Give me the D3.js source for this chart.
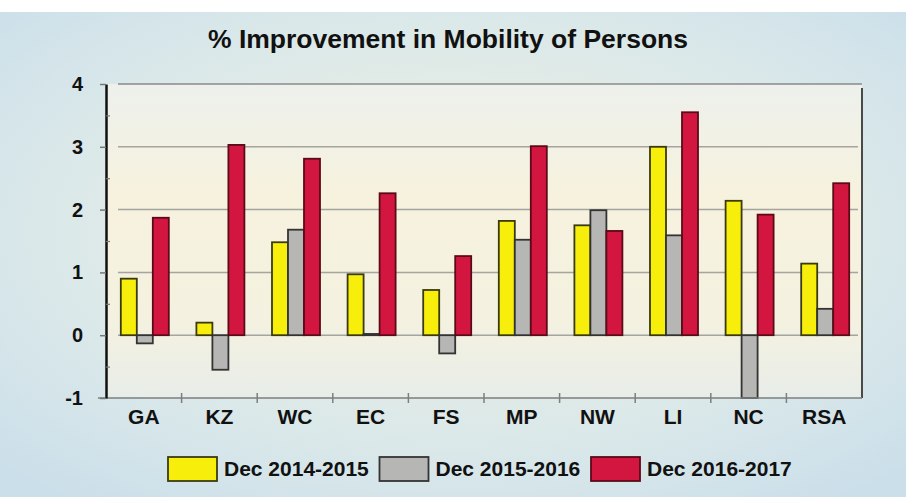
<!DOCTYPE html>
<html>
<head>
<meta charset="utf-8">
<script src="https://cdn.jsdelivr.net/npm/d3@7"></script>
<style>
  body { margin: 0; background: #ffffff; }
  text { font-family: "Liberation Sans", Arial, sans-serif; font-weight: bold; fill: #111; }
  .axis text { font-size: 20px; }
  .xaxis text { font-size: 21px; }
  #title { font-size: 26.5px; }
  .legend_label { font-size: 21px; }
</style>
</head>
<body>
<div id="chart"></div>
<script>
// data
var categories = ["GA", "KZ", "WC", "EC", "FS", "MP", "NW", "LI", "NC", "RSA"];
var seriesNames = ["Dec 2014-2015", "Dec 2015-2016", "Dec 2016-2017"];
var dec2014_2015 = [0.9, 0.2, 1.48, 0.97, 0.72, 1.82, 1.75, 3.0, 2.14, 1.14];
var dec2015_2016 = [-0.13, -0.55, 1.68, 0.02, -0.29, 1.52, 1.99, 1.59, -1.0, 0.42];
var dec2016_2017 = [1.87, 3.03, 2.81, 2.26, 1.26, 3.01, 1.66, 3.55, 1.92, 2.42];
var yTicks = [-1, 0, 1, 2, 3, 4];
var gridValues = [0, 1, 2, 3];
var minorTicks = [-0.5, 0.5, 1.5, 2.5, 3.5];

var colors = ["#f7ee0c", "#b6b6b4", "#d3163f"];
var strokes = ["#3a3a10", "#333333", "#5a0a18"];

var W = 906, H = 497;
var margin = {top: 84, bottom: 99, left: 106, right: 44};
var width = W - margin.left - margin.right;
var height = H - margin.top - margin.bottom;

var svg = d3.select("#chart")
  .append("svg")
  .attr("width", W)
  .attr("height", H);

// background gradients
var defs = svg.append("defs");
var bg = defs.append("radialGradient").attr("id", "bg")
  .attr("cx", "50%").attr("cy", "45%").attr("r", "70%");
bg.append("stop").attr("offset", "0%").attr("stop-color", "#eef0df");
bg.append("stop").attr("offset", "60%").attr("stop-color", "#dce9e9");
bg.append("stop").attr("offset", "100%").attr("stop-color", "#cbdfea");

var pg = defs.append("linearGradient").attr("id", "pg")
  .attr("x1", 0).attr("y1", 0).attr("x2", 0).attr("y2", 1);
pg.append("stop").attr("offset", "0%").attr("stop-color", "#edf0ec");
pg.append("stop").attr("offset", "35%").attr("stop-color", "#f6f2de");
pg.append("stop").attr("offset", "75%").attr("stop-color", "#f4f1e0");
pg.append("stop").attr("offset", "100%").attr("stop-color", "#e8ede9");

svg.append("rect").attr("x", 0).attr("y", 12).attr("width", W).attr("height", H - 12)
  .attr("fill", "url(#bg)");

var g = svg.append("g").attr("transform", "translate(" + margin.left + "," + margin.top + ")");

g.append("rect").attr("width", width).attr("height", height).attr("fill", "url(#pg)");

// scales
var x = d3.scaleBand().domain(categories).range([0, width]);
var groupW = 48;
var x1 = d3.scaleBand().domain(d3.range(3)).range([0, groupW]);
var y = d3.scaleLinear().domain([-1, 4]).range([height, 0]);

// gridlines
g.selectAll(".grid")
  .data(gridValues)
  .enter().append("line")
  .attr("x1", 12).attr("x2", width - 4)
  .attr("y1", function(d) { return y(d); })
  .attr("y2", function(d) { return y(d); })
  .attr("stroke", "#a4a4a0")
  .attr("stroke-width", 1.5);

// top and right frame
g.append("line").attr("x1", 12).attr("x2", width).attr("y1", y(4)).attr("y2", y(4))
  .attr("stroke", "#8a8a88").attr("stroke-width", 1.5);
g.append("line").attr("x1", width).attr("x2", width).attr("y1", y(4) + 4).attr("y2", height)
  .attr("stroke", "#4a4a4a").attr("stroke-width", 2);

// bars
var rows = categories.map(function(c, i) {
  return {cat: c, vals: [dec2014_2015[i], dec2015_2016[i], dec2016_2017[i]]};
});

var groups = g.selectAll(".grp")
  .data(rows)
  .enter().append("g")
  .attr("transform", function(d) {
    return "translate(" + (x(d.cat) + (x.bandwidth() - groupW) / 2 + 1) + ",0)";
  });

groups.selectAll("rect")
  .data(function(d) { return d.vals; })
  .enter().append("rect")
  .attr("x", function(d, i) { return x1(i); })
  .attr("y", function(d) { return y(Math.max(0, d)); })
  .attr("width", x1.bandwidth())
  .attr("height", function(d) { return Math.max(1, Math.abs(y(d) - y(0))); })
  .attr("fill", function(d, i) { return colors[i]; })
  .attr("stroke", function(d, i) { return strokes[i]; })
  .attr("stroke-width", 1.8);

// x axis
var xAxis = d3.axisBottom(x).tickSize(0).tickPadding(11);
var xg = g.append("g")
  .attr("class", "axis xaxis")
  .attr("transform", "translate(0," + height + ")")
  .call(xAxis);
xg.select(".domain").remove();
g.append("line").attr("x1", -8).attr("x2", width).attr("y1", height).attr("y2", height)
  .attr("stroke", "#7e7e7e").attr("stroke-width", 1.5);

// boundary ticks on the x axis
g.selectAll(".xtick")
  .data(categories.slice(1))
  .enter().append("line")
  .attr("x1", function(d) { return x(d); })
  .attr("x2", function(d) { return x(d); })
  .attr("y1", height - 5).attr("y2", height + 5)
  .attr("stroke", "#7e7e7e").attr("stroke-width", 1.5);

// y axis (plain hyphen for the negative label, as in the original)
var yAxis = d3.axisLeft(y).tickValues(yTicks).tickSize(6).tickSizeOuter(0).tickPadding(17)
  .tickFormat(function(d) { return String(d); });
var yg = g.append("g").attr("class", "axis").call(yAxis);
yg.select(".domain").attr("stroke", "#111").attr("stroke-width", 2.5);
yg.selectAll(".tick line").attr("stroke", "#777").attr("stroke-width", 1.5);

// minor ticks inside
var minorAxis = d3.axisRight(y).tickValues(minorTicks).tickSize(4).tickFormat("");
var mg = g.append("g").call(minorAxis);
mg.select(".domain").remove();
mg.selectAll(".tick line").attr("stroke", "#777").attr("stroke-width", 1.2);

// title
svg.append("text")
  .attr("id", "title")
  .attr("x", 448)
  .attr("y", 48)
  .attr("text-anchor", "middle")
  .text("% Improvement in Mobility of Persons");

// legend
var legend = svg.selectAll(".legend")
  .data(seriesNames)
  .enter().append("g")
  .attr("transform", function(d, i) { return "translate(" + (168 + i * 211.5) + ",457)"; });

legend.append("rect")
  .attr("width", 49)
  .attr("height", 24)
  .attr("fill", function(d, i) { return colors[i]; })
  .attr("stroke", function(d, i) { return strokes[i]; })
  .attr("stroke-width", 1.8);

legend.append("text")
  .attr("class", "legend_label")
  .attr("x", 56)
  .attr("y", 19)
  .text(function(d) { return d; });
</script>
</body>
</html>
